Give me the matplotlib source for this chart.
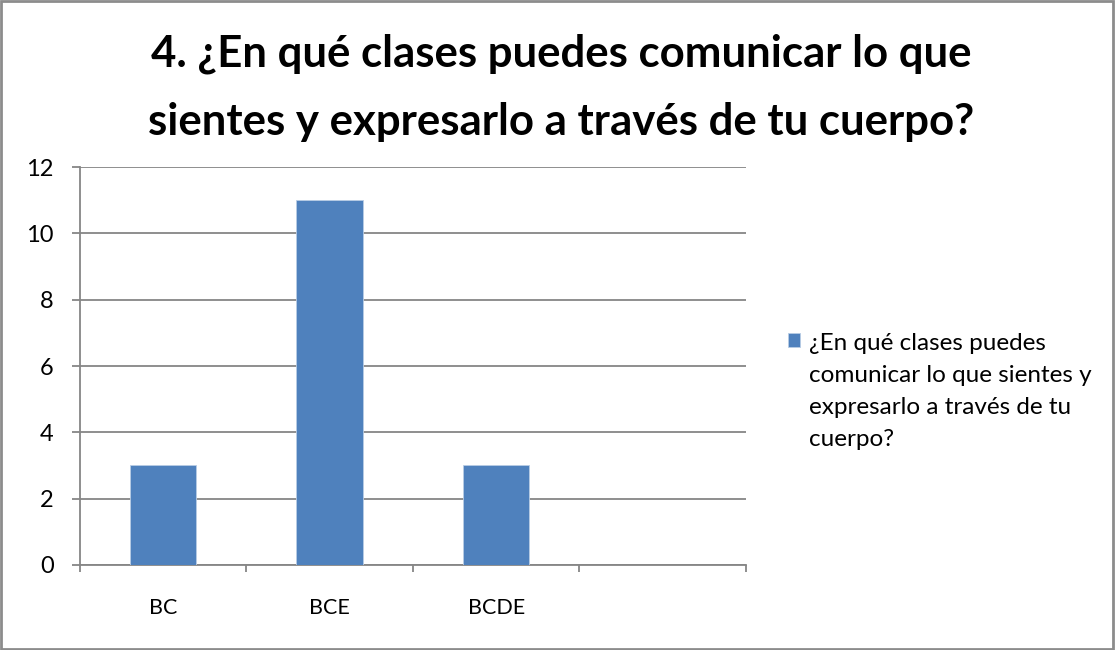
import matplotlib.pyplot as plt
from matplotlib.patches import Rectangle

# chart data
categories = ["BC", "BCE", "BCDE", ""]
values = [3, 11, 3, None]
series_name = "¿En qué clases puedes\ncomunicar lo que sientes y\nexpresarlo a través de tu\ncuerpo?"
title = "4. ¿En qué clases puedes comunicar lo que\nsientes y expresarlo a través de tu cuerpo?"
y_ticks = [0, 2, 4, 6, 8, 10, 12]

bar_color = "#4F81BD"
grid_color = "#868686"

plt.rcParams['font.family'] = ['Lato', 'DejaVu Sans']

fig = plt.figure(figsize=(11.15, 6.5), dpi=100)
ax = fig.add_axes([0.0717, 0.1308, 0.5973, 0.6122])

pos = [i for i, v in enumerate(values) if v is not None]
hts = [v for v in values if v is not None]
ax.bar(pos, hts, width=0.4, color=bar_color, edgecolor="#B9CDE5", linewidth=0.6,
       zorder=3, label=series_name)

ax.set_xlim(-0.5, len(categories) - 0.5)
ax.set_ylim(0, 12)
ax.set_yticks(y_ticks)
ax.set_yticklabels([str(t) for t in y_ticks], fontsize=17)
ax.yaxis.grid(True, color=grid_color, linewidth=1.3, zorder=0)

# category labels centred, ticks on the slot boundaries
ax.set_xticks(range(len(categories)))
ax.set_xticklabels(categories, fontsize=15.5)
ax.tick_params(axis='x', length=0, pad=24)
ax.set_xticks([i - 0.5 for i in range(len(categories) + 1)], minor=True)
ax.tick_params(axis='x', which='minor', length=5, width=1.3, color=grid_color, direction='out')
ax.tick_params(axis='y', length=6, width=1.3, color=grid_color, pad=13)

for s in ['top', 'right']:
    ax.spines[s].set_visible(False)
for s in ['left', 'bottom']:
    ax.spines[s].set_color(grid_color)
    ax.spines[s].set_linewidth(1.3)

fig.text(0.503, 0.865, title, ha='center', va='center', fontsize=31.5,
         fontweight='bold', linespacing=1.85)

leg = fig.legend(loc='upper left', bbox_to_anchor=(0.6983, 0.503), frameon=False,
                 fontsize=17.5, handlelength=0.5, handleheight=0.5, handletextpad=0.33,
                 borderaxespad=0)
for t in leg.get_texts():
    t.set_linespacing(1.65)
# put the square beside the first line of the label
for col in leg._legend_handle_box.get_children():
    for row in col.get_children():
        row.align = "top"

fig.patches.append(Rectangle((0.001, 0.002), 0.997, 0.996, transform=fig.transFigure,
                             fill=False, edgecolor="#8C8C8C", linewidth=2))

fig.savefig("out.png", dpi=100)
